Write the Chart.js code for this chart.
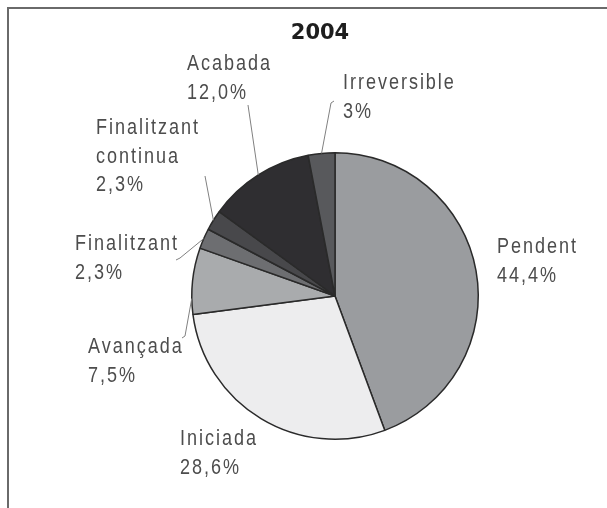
<!DOCTYPE html>
<html>
<head>
<meta charset="utf-8">
<script src="https://cdn.jsdelivr.net/npm/chart.js@4.4.0/dist/chart.umd.min.js"></script>
<style>
  html, body { margin: 0; padding: 0; background: #fff; overflow: hidden; }
  canvas { display: block; }
</style>
</head>
<body>
<canvas id="myChart" width="607" height="508"></canvas>
<script>
const title = '2004'

const categories = [
  'Pendent',
  'Iniciada',
  'Avançada',
  'Finalitzant',
  'Finalitzant continua',
  'Acabada',
  'Irreversible'
]

const values = [44.4, 28.6, 7.5, 2.3, 2.3, 12.0, 3]

const valueLabels = ['44,4%', '28,6%', '7,5%', '2,3%', '2,3%', '12,0%', '3%']

const sliceColors = ['#9a9c9f', '#ededee', '#a9abad', '#6d6e71', '#48484b', '#2f2e31', '#58595c']

// label placement relative to the pie centre (first baseline)
const labelOffsets = [
  [162, -43],
  [-155, 149],
  [-247, 57],
  [-260, -46],
  [-239, -162],
  [-148, -226],
  [8, -207]
]

// leader lines: where on the slice edge they start, then the bends
const leaders = [
  null,
  null,
  { at: 0.24, pts: [[-150, 40], [-153, 42]] },
  { at: 0.5, pts: [[-155, -38], [-159, -36]] },
  { at: 0.5, pts: [[-130, -120]] },
  { at: 0.5, pts: [[-87, -191]] },
  { at: 0.5, pts: [[-4, -193], [-1, -195]] }
]

const annotate = {
  id: 'annotate',
  beforeDraw(chart) {
    const c = chart.ctx
    c.save()
    c.strokeStyle = '#6a6a6a'
    c.lineWidth = 2
    c.beginPath()
    c.moveTo(8, 508)
    c.lineTo(8, 8)
    c.lineTo(607, 8)
    c.stroke()
    c.restore()
  },
  afterDraw(chart) {
    const c = chart.ctx
    const arcs = chart.getDatasetMeta(0).data
    const cx = arcs[0].x
    const cy = arcs[0].y

    c.save()
    c.fillStyle = '#1e1e1e'
    c.font = 'bold 21px "DejaVu Sans"'
    c.textAlign = 'center'
    c.textBaseline = 'alphabetic'
    c.fillText(title, 320, 39)

    // leader lines
    c.strokeStyle = '#808080'
    c.lineWidth = 1
    arcs.forEach((arc, i) => {
      const l = leaders[i]
      if (!l) return
      const a = arc.startAngle + (arc.endAngle - arc.startAngle) * l.at
      const r = arc.outerRadius
      c.beginPath()
      c.moveTo(cx + Math.cos(a) * r, cy + Math.sin(a) * r)
      l.pts.forEach(p => c.lineTo(cx + p[0], cy + p[1]))
      c.stroke()
    })

    // labels - narrow look by squeezing Liberation Sans
    const squeeze = 0.82
    c.fillStyle = '#4d4d4d'
    c.font = '22px "Liberation Sans", Arial, sans-serif'
    c.textAlign = 'left'
    if ('letterSpacing' in c) c.letterSpacing = '2.4px'
    categories.forEach((name, i) => {
      const lines = name.split(' ').concat([valueLabels[i]])
      const x = cx + labelOffsets[i][0]
      let y = cy + labelOffsets[i][1]
      lines.forEach(t => {
        c.save()
        c.translate(x, y)
        c.scale(squeeze, 1)
        c.fillText(t, 0, 0)
        c.restore()
        y += 28.5
      })
    })
    c.restore()
  }
}

const myChart = new Chart(document.getElementById('myChart'), {
  type: 'pie',
  data: {
    labels: categories,
    datasets: [{
      data: values,
      backgroundColor: sliceColors,
      borderColor: '#2a2a2a',
      borderWidth: 1.5
    }]
  },
  options: {
    responsive: false,
    animation: false,
    devicePixelRatio: 1,
    layout: { padding: { left: 191, right: 128, top: 152, bottom: 68 } },
    plugins: {
      legend: { display: false },
      tooltip: { enabled: false },
      title: { display: false }
    }
  },
  plugins: [annotate]
})
</script>
</body>
</html>
